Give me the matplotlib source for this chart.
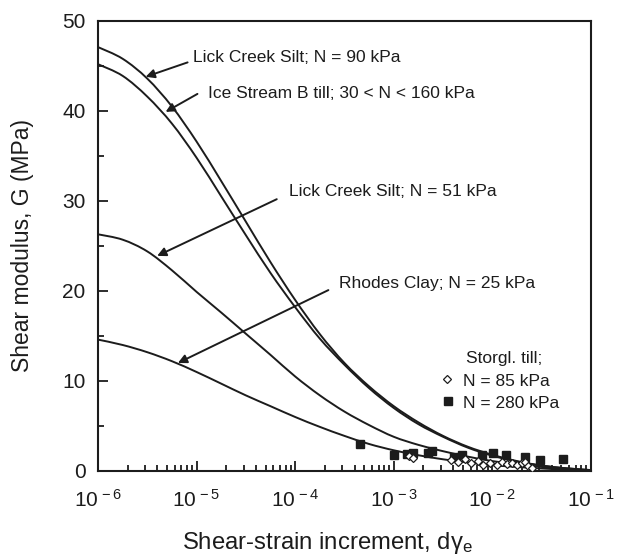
import numpy as np
import matplotlib
matplotlib.use("Agg")
import matplotlib.pyplot as plt
from matplotlib.path import Path
from matplotlib.patches import PathPatch
from matplotlib.ticker import FixedLocator, NullFormatter

plt.rcParams['font.family'] = ['Liberation Sans', 'DejaVu Sans']
plt.rcParams['mathtext.fontset'] = 'custom'
plt.rcParams['mathtext.rm'] = 'Liberation Sans'
plt.rcParams['mathtext.it'] = 'Liberation Sans:italic'

INK = '#1c1c1c'

# strain increments at which the curves are tabulated
strain = [1e-6, 1.78e-6, 3.16e-6, 5.62e-6,
          1e-5, 1.78e-5, 3.16e-5, 5.62e-5,
          1e-4, 1.78e-4, 3.16e-4, 5.62e-4,
          1e-3, 1.78e-3, 3.16e-3, 5.62e-3,
          1e-2, 1.78e-2, 3.16e-2, 5.62e-2,
          1e-1]

# shear modulus G (MPa)
g_lick90 = [47.1, 45.8, 43.6, 40.5, 36.6, 32.2, 27.7, 23.2, 19.0, 15.2, 12.0,
            9.4, 7.2, 5.4, 3.9, 2.7, 1.8, 1.1, 0.6, 0.3, 0.1]
g_isb = [45.2, 43.9, 41.6, 38.6, 34.8, 30.5, 26.2, 22.0, 18.2, 14.7, 11.8,
         9.2, 7.0, 5.2, 3.8, 2.6, 1.7, 1.05, 0.6, 0.3, 0.1]
g_lick51 = [26.3, 25.7, 24.4, 22.3, 19.9, 17.6, 15.25, 12.9, 10.5, 8.4, 6.6,
            5.1, 3.8, 2.9, 2.2, 1.6, 1.1, 0.75, 0.45, 0.22, 0.05]
g_rhodes = [14.6, 14.0, 13.2, 12.2, 11.0, 9.7, 8.4, 7.2, 6.0, 4.9, 3.9,
            3.0, 2.3, 1.75, 1.3, 0.95, 0.65, 0.45, 0.28, 0.15, 0.05]

# Storglaciären till measurements
strain_280 = [4.57e-4, 1.0e-3, 1.35e-3, 1.58e-3, 2.24e-3, 2.45e-3, 4.07e-3,
              4.9e-3, 7.76e-3, 1.02e-2, 1.38e-2, 2.14e-2, 3.02e-2, 5.25e-2]
g_280 = [3.0, 1.8, 1.85, 2.0, 2.0, 2.2, 1.6, 1.8, 1.8, 2.0, 1.8, 1.6, 1.2, 1.3]

strain_85 = [1.41e-3, 1.58e-3, 3.8e-3, 4.47e-3, 5.25e-3, 6.03e-3, 7.08e-3,
             7.94e-3, 9.55e-3, 1.12e-2, 1.26e-2, 1.41e-2, 1.58e-2, 1.78e-2,
             2.0e-2, 2.14e-2, 2.29e-2, 2.51e-2]
g_85 = [1.7, 1.5, 1.2, 1.0, 1.3, 0.9, 1.1, 0.7, 0.9, 0.7, 1.0, 0.8, 0.9,
        0.7, 0.9, 1.0, 0.6, 0.3]

x_ticks = [1e-6, 1e-5, 1e-4, 1e-3, 1e-2, 1e-1]
x_ticklabels = [r'10$^{\,-6}$', r'10$^{\,-5}$', r'10$^{\,-4}$',
                r'10$^{\,-3}$', r'10$^{\,-2}$', r'10$^{\,-1}$']
y_ticks = [0, 10, 20, 30, 40, 50]


def smooth_curve(xs, ys):
    """Catmull-Rom Bezier path through (xs, ys), built in log-x space."""
    p = np.column_stack([np.log10(xs), ys])
    n = len(p)
    verts = [p[0]]
    codes = [Path.MOVETO]
    for i in range(n - 1):
        p0 = p[max(i - 1, 0)]
        p1 = p[i]
        p2 = p[i + 1]
        p3 = p[min(i + 2, n - 1)]
        verts += [p1 + (p2 - p0) / 6.0, p2 - (p3 - p1) / 6.0, p2]
        codes += [Path.CURVE4] * 3
    verts = np.array(verts)
    verts[:, 0] = 10.0 ** verts[:, 0]
    return Path(verts, codes)


fig = plt.figure(figsize=(6.24, 5.56), dpi=100)
fig.patch.set_facecolor('white')
ax = fig.add_axes([98 / 624, 1 - 471 / 556, 493 / 624, 450 / 556])

ax.set_xscale('log')
ax.set_xlim(1e-6, 1e-1)
ax.set_ylim(0, 50)

for g in (g_lick90, g_isb, g_lick51, g_rhodes):
    ax.add_patch(PathPatch(smooth_curve(strain, g), fill=False, edgecolor=INK,
                           lw=1.4, capstyle='round', zorder=3))

ax.plot(strain_280, g_280, ls='none', marker='s', ms=5.8, mfc=INK, mec=INK,
        zorder=4)
ax.plot(strain_85, g_85, ls='none', marker='D', ms=3.8, mfc='white', mec=INK,
        mew=0.9, zorder=5)

ax.xaxis.set_major_locator(FixedLocator(x_ticks))
ax.set_xticklabels(x_ticklabels)
minor_x = [m * 10.0 ** e for e in range(-6, -1) for m in range(2, 10)]
ax.xaxis.set_minor_locator(FixedLocator(minor_x))
ax.xaxis.set_minor_formatter(NullFormatter())
ax.yaxis.set_major_locator(FixedLocator(y_ticks))
ax.yaxis.set_minor_locator(FixedLocator([5, 15, 25, 35, 45]))

ax.tick_params(which='both', direction='in', top=False, right=False,
               color=INK, width=1.3)
ax.tick_params(which='major', length=7)
ax.tick_params(which='minor', length=4)
ax.tick_params(axis='x', which='major', labelsize=15, pad=13, labelcolor=INK)
ax.tick_params(axis='y', which='major', labelsize=15, pad=9, labelcolor=INK)

for s in ax.spines.values():
    s.set_linewidth(1.5)
    s.set_color(INK)

ax.set_xlabel('Shear-strain increment, dγ$_{\\mathrm{e}}$', fontsize=17.2,
              color=INK, labelpad=14)
ax.xaxis.label.set_x((327 - 98) / 493)
ax.set_ylabel('Shear modulus, G (MPa)', fontsize=16.5, color=INK, labelpad=20)

arrow = dict(arrowstyle='-|>', lw=1.4, color=INK, mutation_scale=13,
             shrinkA=0, shrinkB=0)

# (label, text position, arrow tail, arrow tip) in data coordinates
notes = [
    ('Lick Creek Silt; N = 90 kPa', (9.2e-6, 46.0), (8.1e-6, 45.4), (3.04e-6, 43.8)),
    ('Ice Stream B till; 30 < N < 160 kPa', (1.29e-5, 41.9), (1.02e-5, 41.9), (4.85e-6, 39.9)),
    ('Lick Creek Silt; N = 51 kPa', (8.6e-5, 31.0), (6.5e-5, 30.2), (3.98e-6, 23.9)),
    ('Rhodes Clay; N = 25 kPa', (2.8e-4, 20.8), (2.17e-4, 20.1), (6.46e-6, 12.0)),
]
for label, txt, tail, tip in notes:
    ax.annotate('', xy=tip, xytext=tail, arrowprops=arrow, zorder=6)
    ax.text(txt[0], txt[1], label, fontsize=12.5, color=INK,
            ha='left', va='center')

# key for the till measurements
ax.text((466 - 98) / 493, (471 - 358) / 450, 'Storgl. till;', transform=ax.transAxes,
        fontsize=12.5, color=INK, ha='left', va='center')
ax.plot([(447 - 98) / 493], [(471 - 379) / 450], transform=ax.transAxes,
        marker='D', ms=3.8, mfc='white', mec=INK, mew=0.9, ls='none')
ax.text((463 - 98) / 493, (471 - 381) / 450, 'N = 85 kPa', transform=ax.transAxes,
        fontsize=12.5, color=INK, ha='left', va='center')
ax.plot([(448 - 98) / 493], [(471 - 401) / 450], transform=ax.transAxes,
        marker='s', ms=5.8, mfc=INK, mec=INK, ls='none')
ax.text((463 - 98) / 493, (471 - 403) / 450, 'N = 280 kPa', transform=ax.transAxes,
        fontsize=12.5, color=INK, ha='left', va='center')

fig.savefig('out.png', dpi=100)
